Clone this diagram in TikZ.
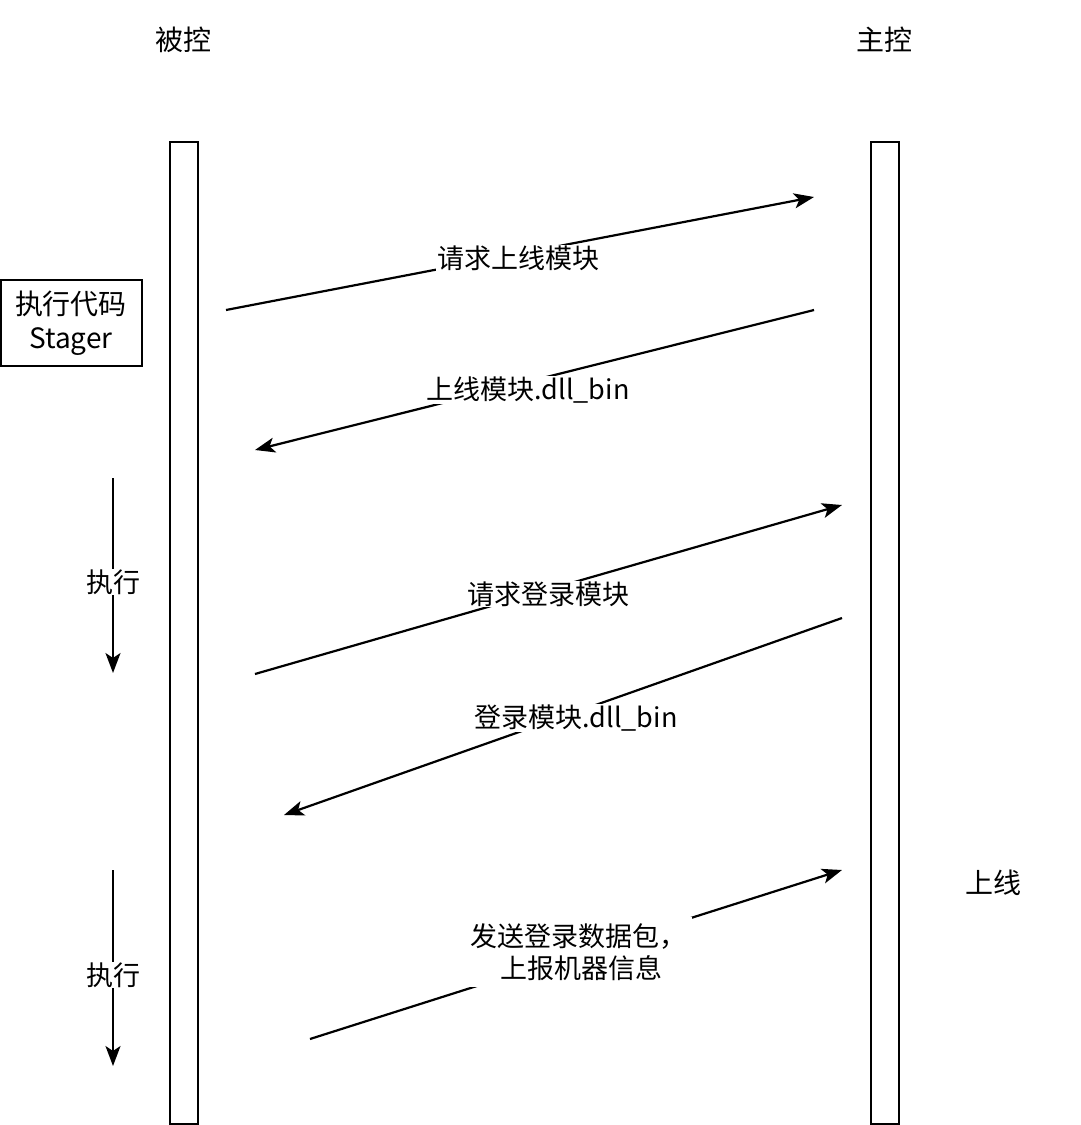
\documentclass[tikz,border=0pt]{standalone}
\usepackage{fontspec}
\setmainfont{Noto Sans CJK SC}
\usetikzlibrary{arrows.meta}
\begin{document}
\begin{tikzpicture}[x=1pt,y=-1pt,
  lbl/.style={font=\fontsize{27}{32}\selectfont, fill=white, inner sep=1pt, align=center},
  msg/.style={line width=2.2pt, -{Stealth[length=20pt,width=15pt,inset=5pt]}},
  bar/.style={draw, line width=2.2pt}]
\useasboundingbox (0,0) rectangle (1080,1125);
\node[font=\fontsize{28}{32}\selectfont] (t1) at (183,40) {被控};
\node[font=\fontsize{28}{32}\selectfont] (t2) at (884,40) {主控};
\draw[bar] (170,142) rectangle (198,1124);
\draw[bar] (871,142) rectangle (899,1124);
\node[draw, line width=2pt, minimum width=141pt, minimum height=86pt, inner sep=0pt, align=center, font=\fontsize{28}{34}\selectfont] (st) at (71,323) {执行代码\\Stager};
\coordinate (a1s) at (226,310); \coordinate (a1e) at (814,197);
\coordinate (a2s) at (814,310); \coordinate (a2e) at (255,450);
\coordinate (a3s) at (255,674); \coordinate (a3e) at (842,505);
\coordinate (a4s) at (842,618); \coordinate (a4e) at (284,815);
\coordinate (a5s) at (310,1039); \coordinate (a5e) at (842,870);
\draw[msg] (a1s) -- (a1e);
\draw[msg] (a2s) -- (a2e);
\draw[msg] (a3s) -- (a3e);
\draw[msg] (a4s) -- (a4e);
\draw[msg] (a5s) -- (a5e);
\node[lbl] (l1) at (518,258) {请求上线模块};
\node[lbl] (l2) at (528,390) {上线模块.dll\_bin};
\node[lbl] (l3) at (548,594) {请求登录模块};
\node[lbl] (l4) at (576,718) {登录模块.dll\_bin};
\node[lbl, inner sep=6pt] (l5) at (578,952) {发送登录数据包，\\\ 上报机器信息};
\node[font=\fontsize{28}{32}\selectfont] (sx) at (993,883) {上线};
\coordinate (v1s) at (113,478); \coordinate (v1e) at (113,673);
\coordinate (v2s) at (113,870); \coordinate (v2e) at (113,1066);
\draw[msg] (v1s) -- (v1e);
\draw[msg] (v2s) -- (v2e);
\node[lbl] (e1) at (113,582) {执行};
\node[lbl] (e2) at (113,975) {执行};
\end{tikzpicture}
\end{document}
